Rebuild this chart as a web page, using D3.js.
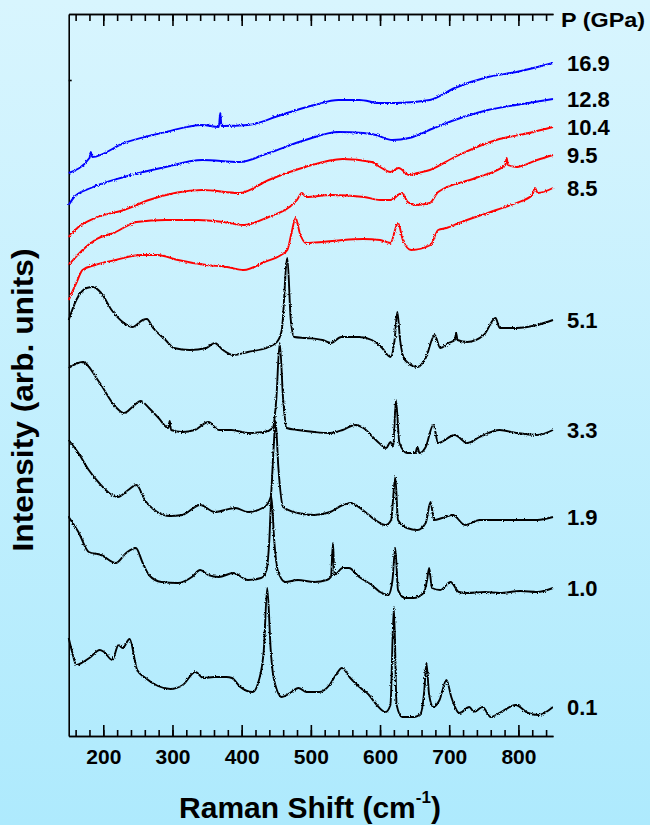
<!DOCTYPE html>
<html>
<head>
<meta charset="utf-8">
<script src="https://cdn.jsdelivr.net/npm/d3@7"></script>
<style>
  body { margin: 0; }
  text { font-family: "Liberation Sans", Arial, sans-serif; font-weight: bold; fill: #000; }
</style>
</head>
<body>
<script>
  //Data: [Raman shift (cm-1), intensity (arb. units, offset stacked)]
  var pressures = ["16.9", "12.8", "10.4", "9.5", "8.5", "5.1", "3.3", "1.9", "1.0", "0.1"];

  var s169 = [[150,563],[180,578],[182,584],[184,579],[230,593],[290,604],[343,611],[367,609],[369,623],[371,610],
    [409,611],[457,621],[505,631],[540,636],[570,636],[600,633],[624,633],[672,636],[708,648],[756,659],[797,664],[850,673]];

  var s128 = [[150,531],[158,539],[182,548],[230,559],[290,569],[343,576],[397,574],[439,583],[492,596],[540,604],
    [576,603],[594,601],[618,596],[642,598],[678,608],[708,616],[756,626],[797,631],[850,637]];

  var s104 = [[150,499],[164,509],[188,518],[230,526],[266,536],[343,546],[397,543],[439,556],[492,569],[546,577],
    [588,574],[600,569],[615,564],[627,568],[642,561],[654,563],[672,566],[708,579],[768,596],[815,603],[850,609]];

  var s95 = [[150,471],[170,486],[188,496],[218,504],[248,514],[290,516],[337,516],[373,514],[403,511],[439,519],
    [469,529],[480,536],[487,543],[493,539],[529,541],[577,539],[600,536],[615,536],[632,543],[640,534],[651,531],
    [672,533],[684,544],[738,558],[781,571],[783,578],[785,571],[797,569],[827,576],[850,581]];

  var s85 = [[150,436],[161,453],[170,466],[188,471],[218,476],[254,481],[278,481],[308,476],[349,471],[379,469],
    [403,466],[433,474],[457,481],[466,486],[472,503],[478,518],[484,503],[493,493],[517,494],[546,496],[576,497],
    [600,496],[615,493],[626,513],[633,496],[645,486],[673,491],[684,506],[696,508],[714,513],[738,519],[768,526],
    [797,533],[820,541],[824,548],[828,543],[850,548]];

  var s51 = [[150,416],[161,436],[176,448],[185,449],[197,443],[212,426],[230,413],[242,409],[257,416],[263,417],
    [272,408],[290,396],[302,388],[325,386],[349,388],[361,393],[373,386],[388,381],[409,384],[439,389],[451,394],
    [458,406],[466,478],[471,416],[476,399],[493,398],[517,396],[529,393],[544,399],[570,399],[588,396],[603,388],
    [615,379],[621,396],[625,424],[629,396],[636,376],[654,369],[666,378],[679,401],[687,388],[699,393],[708,396],
    [710,403],[712,396],[726,394],[750,401],[767,418],[773,408],[797,408],[827,411],[850,416]];

  var s33 = [[150,368],[170,374],[194,354],[218,329],[230,323],[242,329],[254,335],[266,328],[280,318],[294,308],
    [296,315],[298,306],[314,304],[332,306],[352,314],[367,306],[385,306],[409,303],[433,304],[445,308],[450,336],
    [455,393],[460,336],[465,308],[481,306],[505,304],[528,303],[546,306],[564,311],[576,308],[594,296],[609,288],
    [615,294],[619,289],[623,336],[628,293],[639,283],[651,283],[654,289],[657,283],[666,289],[677,311],[684,293],
    [708,301],[726,293],[744,299],[773,306],[797,303],[827,301],[850,306]];

  var s19 = [[150,296],[164,283],[179,266],[194,253],[221,239],[236,246],[248,251],[260,236],[278,224],[296,220],
    [314,221],[340,231],[361,224],[391,228],[409,224],[433,229],[442,239],[446,286],[449,315],[453,269],[460,229],
    [481,223],[505,221],[528,224],[546,231],[557,233],[575,226],[593,216],[608,211],[616,216],[622,259],[626,216],
    [639,208],[654,206],[666,213],[673,234],[678,216],[690,218],[705,221],[723,211],[744,216],[768,216],[798,216],
    [827,216],[850,219]];

  var s10 = [[150,219],[164,204],[179,184],[197,181],[218,173],[233,183],[247,188],[257,173],[266,161],[284,154],
    [308,153],[328,159],[340,166],[352,161],[367,159],[388,163],[409,156],[428,158],[436,166],[440,196],[443,239],
    [447,196],[452,166],[463,154],[481,156],[505,154],[523,156],[529,159],[532,193],[534,161],[546,168],[555,168],
    [570,159],[588,151],[600,144],[612,141],[618,156],[622,188],[626,146],[636,138],[648,138],[663,143],[668,156],
    [671,168],[675,148],[687,146],[702,154],[714,144],[726,143],[752,144],[773,143],[803,145],[827,144],[850,148]];

  var s01 = [[150,98],[155,84],[161,71],[171,74],[180,78],[195,86],[201,84],[213,76],[222,91],[228,88],[238,97],
    [249,66],[261,58],[279,50],[297,47],[315,51],[333,64],[345,58],[360,59],[378,59],[386,58],[398,49],[416,44],
    [425,56],[432,86],[437,148],[442,86],[446,59],[458,39],[470,43],[482,48],[494,44],[512,44],[527,51],[536,61],
    [545,68],[557,58],[572,48],[584,41],[593,33],[608,24],[615,31],[620,129],[624,31],[632,19],[650,19],[659,23],
    [664,46],[667,73],[671,41],[677,29],[686,36],[696,56],[703,39],[715,23],[729,29],[736,24],[748,29],[760,19],
    [775,24],[796,31],[814,23],[829,21],[850,29]];

  var spectra = [s169, s128, s104, s95, s85, s51, s33, s19, s10, s01];

  var majorTicks = [200, 300, 400, 500, 600, 700, 800];
  var minorTicks = d3.range(160, 850, 20);

  var w = 650; //svg width
  var h = 825; //svg height

  //colour by phase
  var lineColor = function(p) {
      if (+p > 12) { return "#0000ff"; }
      if (+p > 8) { return "#ff0000"; }
      return "#000000";
  };

  var svg = d3.select("body")
      .append("svg")
      .attr("width", w)
      .attr("height", h);

  var defs = svg.append("defs");

  //background gradient
  var grad = defs.append("linearGradient")
      .attr("id", "bg")
      .attr("x1", 0).attr("y1", 0).attr("x2", 0).attr("y2", 1);
  grad.append("stop").attr("offset", "0%").attr("stop-color", "#d8f5fe");
  grad.append("stop").attr("offset", "100%").attr("stop-color", "#aeeafd");

  //detector-noise look for the traces (purely visual)
  var noise = defs.append("filter")
      .attr("id", "noisy")
      .attr("filterUnits", "userSpaceOnUse")
      .attr("x", 0).attr("y", 0).attr("width", w).attr("height", h);
  noise.append("feTurbulence")
      .attr("type", "fractalNoise")
      .attr("baseFrequency", "0.9")
      .attr("numOctaves", 1)
      .attr("seed", 3)
      .attr("result", "turb");
  noise.append("feDisplacementMap")
      .attr("in", "SourceGraphic")
      .attr("in2", "turb")
      .attr("scale", 3)
      .attr("xChannelSelector", "R")
      .attr("yChannelSelector", "G");

  svg.append("rect")
      .attr("width", w)
      .attr("height", h)
      .attr("fill", "url(#bg)");

  //SCALES
  var x = d3.scaleLinear()
      .domain([150, 850])
      .range([68.7, 553]);

  var y = d3.scaleLinear()
      .domain([0, 722])
      .range([736, 14]);

  //AXES
  var styleAxis = function(g) {
      g.selectAll("path, line").attr("stroke", "#000").attr("stroke-width", 1.6);
      g.selectAll("text").remove();
  };

  svg.append("g")
      .attr("transform", "translate(0," + y(0) + ")")
      .call(d3.axisBottom(x).tickValues(minorTicks).tickSize(-6).tickSizeOuter(0))
      .call(styleAxis);

  var bottomMajor = svg.append("g")
      .attr("transform", "translate(0," + y(0) + ")")
      .call(d3.axisBottom(x).tickValues(majorTicks).tickSize(-11).tickSizeOuter(0).tickPadding(13.5));
  bottomMajor.selectAll("path, line").attr("stroke", "#000").attr("stroke-width", 1.6);
  bottomMajor.selectAll("text")
      .style("font-size", "21px")
      .style("font-family", "'Liberation Sans', Arial, sans-serif")
      .style("font-weight", "bold")
      .attr("fill", "#000");

  svg.append("g")
      .attr("transform", "translate(0," + y(722) + ")")
      .call(d3.axisTop(x).tickValues(minorTicks).tickSize(-7).tickSizeOuter(0))
      .call(styleAxis);

  svg.append("g")
      .attr("transform", "translate(0," + y(722) + ")")
      .call(d3.axisTop(x).tickValues(majorTicks).tickSize(-12).tickSizeOuter(0))
      .call(styleAxis);

  svg.append("g")
      .attr("transform", "translate(" + x(150) + ",0)")
      .call(d3.axisLeft(y).tickValues([656]).tickSize(-3).tickSizeOuter(0))
      .call(styleAxis);

  //SPECTRA
  var line = d3.line()
      .x(function(d) { return x(d[0]); })
      .y(function(d) { return y(d[1]); })
      .curve(d3.curveMonotoneX);

  svg.append("g")
      .attr("filter", "url(#noisy)")
      .selectAll("path.spectrum")
      .data(spectra)
      .enter()
      .append("path")
      .attr("class", "spectrum")
      .attr("d", line)
      .attr("fill", "none")
      .attr("stroke-width", 1.9)
      .attr("stroke-linejoin", "round")
      .attr("stroke", function(d, i) { return lineColor(pressures[i]); });

  //PRESSURE LABELS
  svg.selectAll("text.plabel")
      .data(spectra)
      .enter()
      .append("text")
      .attr("class", "plabel")
      .attr("x", 567)
      .attr("y", function(d) { return y(d[d.length - 1][1]); })
      .attr("dy", "0.36em")
      .style("font-size", "22px")
      .text(function(d, i) { return pressures[i]; });

  svg.append("text")
      .attr("x", 561)
      .attr("y", 27)
      .style("font-size", "20px")
      .attr("textLength", 84)
      .attr("lengthAdjust", "spacingAndGlyphs")
      .text("P (GPa)");

  //TITLES
  var xTitle = svg.append("text")
      .attr("x", 310)
      .attr("y", 818)
      .attr("text-anchor", "middle")
      .style("font-size", "30px");
  xTitle.append("tspan").text("Raman Shift (cm");
  xTitle.append("tspan").attr("dy", -15).style("font-size", "17px").text("-1");
  xTitle.append("tspan").attr("dy", 15).text(")");

  svg.append("text")
      .attr("transform", "translate(33,400) rotate(-90)")
      .attr("text-anchor", "middle")
      .style("font-size", "29px")
      .attr("textLength", 303)
      .attr("lengthAdjust", "spacingAndGlyphs")
      .text("Intensity (arb. units)");
</script>
</body>
</html>
